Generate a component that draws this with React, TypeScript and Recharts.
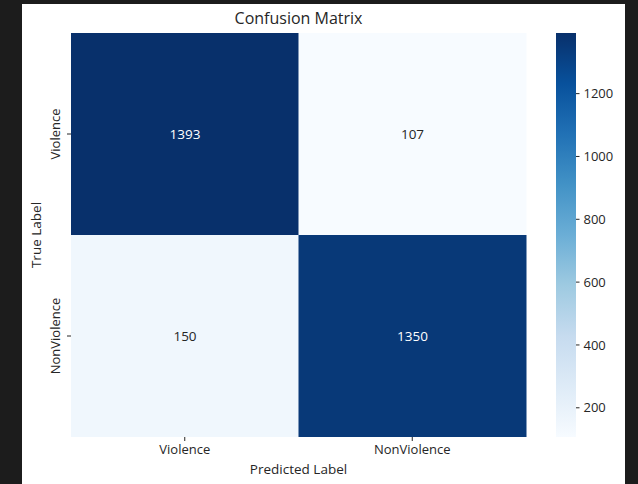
import { BarChart, Bar, Cell, XAxis, YAxis, LabelList } from 'recharts'

const labels = ['Violence', 'NonViolence']
// rows = true label, columns = predicted label
const violenceRow = [1393, 107]
const nonViolenceRow = [150, 1350]
const colorbarTicks = [200, 400, 600, 800, 1000, 1200]

// matplotlib "Blues"
const BLUES = ['#f7fbff', '#deebf7', '#c6dbef', '#9ecae1', '#6baed6', '#4292c6', '#2171b5', '#08519c', '#08306b']

const allValues = [...violenceRow, ...nonViolenceRow]
const vmin = Math.min(...allValues)
const vmax = Math.max(...allValues)

function hexToRgb(h: string) {
  const n = parseInt(h.slice(1), 16)
  return [(n >> 16) & 255, (n >> 8) & 255, n & 255]
}

function blues(v: number) {
  const t = Math.max(0, Math.min(1, (v - vmin) / (vmax - vmin)))
  const pos = t * (BLUES.length - 1)
  const i = Math.min(Math.floor(pos), BLUES.length - 2)
  const f = pos - i
  const a = hexToRgb(BLUES[i])
  const b = hexToRgb(BLUES[i + 1])
  const c = a.map((x, k) => Math.round(x + (b[k] - x) * f))
  return `rgb(${c[0]},${c[1]},${c[2]})`
}

const data = labels.map((pred, i) => ({
  pred,
  Violence: violenceRow[i],
  NonViolence: nonViolenceRow[i],
}))

const colorbarData = [{ name: 'cb', range: [vmin, vmax] }]

const FONT = '"Open Sans", sans-serif'
const TEXT = '#262626'

const cellLabel = (props: any) => {
  const { x, y, width, height, value } = props
  const fill = value > (vmin + vmax) / 2 ? '#ffffff' : TEXT
  return (
    <text
      x={x + width / 2}
      y={y + height / 2}
      textAnchor="middle"
      dominantBaseline="central"
      fontSize={13.5}
      fontFamily={FONT}
      fill={fill}
    >
      {value}
    </text>
  )
}

const YTick = (props: any) => {
  const { x, y, payload } = props
  const name = payload.value > 1 ? 'Violence' : 'NonViolence'
  return (
    <text
      transform={`translate(${x - 10},${y}) rotate(-90)`}
      textAnchor="middle"
      dominantBaseline="central"
      fontSize={13}
      fontFamily={FONT}
      fill={TEXT}
    >
      {name}
    </text>
  )
}

export default function App() {
  return (
    <div style={{ position: 'absolute', left: 0, top: 0, width: 638, height: 484, background: '#1c1c1c' }}>
      <div style={{ position: 'absolute', left: 22, top: 4, width: 603, height: 480, background: '#ffffff' }} />
      <div
        style={{
          position: 'absolute',
          left: 0,
          width: 597,
          top: 7,
          textAlign: 'center',
          fontFamily: FONT,
          fontSize: 16,
          lineHeight: '22px',
          color: TEXT,
        }}
      >
        Confusion Matrix
      </div>
      <div style={{ position: 'absolute', left: 0, top: 0 }}>
        <BarChart
          width={638}
          height={484}
          data={data}
          margin={{ top: 33, right: 112, bottom: 17, left: 31 }}
          barCategoryGap={0}
        >
          <XAxis
            dataKey="pred"
            axisLine={false}
            tickSize={4}
            tickMargin={4}
            height={30}
            tick={{ fontSize: 13, fontFamily: FONT, fill: TEXT }}
            tickLine={{ stroke: TEXT }}
            label={{
              content: ({ viewBox }: any) => (
                <text
                  x={viewBox.x + viewBox.width / 2}
                  y={469}
                  textAnchor="middle"
                  dominantBaseline="central"
                  fontSize={13.5}
                  fontFamily={FONT}
                  fill={TEXT}
                >
                  Predicted Label
                </text>
              ),
            }}
          />
          <YAxis
            type="number"
            domain={[0, 2]}
            ticks={[0.5, 1.5]}
            width={40}
            axisLine={false}
            tickSize={4}
            tickMargin={2}
            tickLine={{ stroke: TEXT }}
            tick={<YTick />}
            label={{
              content: ({ viewBox }: any) => (
                <text
                  transform={`translate(${viewBox.x + 5},${viewBox.y + viewBox.height / 2}) rotate(-90)`}
                  textAnchor="middle"
                  dominantBaseline="central"
                  fontSize={13.5}
                  fontFamily={FONT}
                  fill={TEXT}
                >
                  True Label
                </text>
              ),
            }}
          />
          <Bar dataKey={() => 1} stackId="m" isAnimationActive={false}>
            {data.map((d) => (
              <Cell key={d.pred} fill={blues(d.NonViolence)} />
            ))}
            <LabelList dataKey="NonViolence" content={cellLabel} />
          </Bar>
          <Bar dataKey={() => 1} stackId="m" isAnimationActive={false}>
            {data.map((d) => (
              <Cell key={d.pred} fill={blues(d.Violence)} />
            ))}
            <LabelList dataKey="Violence" content={cellLabel} />
          </Bar>
        </BarChart>
      </div>
      <div style={{ position: 'absolute', left: 0, top: 0 }}>
        <BarChart
          width={638}
          height={484}
          data={colorbarData}
          margin={{ top: 33, right: 12, bottom: 47, left: 556 }}
          barCategoryGap={0}
        >
          <defs>
            <linearGradient id="cbGrad" x1="0" y1="1" x2="0" y2="0">
              {BLUES.map((c, i) => (
                <stop key={c} offset={i / (BLUES.length - 1)} stopColor={c} />
              ))}
            </linearGradient>
          </defs>
          <XAxis dataKey="name" hide />
          <YAxis
            type="number"
            orientation="right"
            domain={[vmin, vmax]}
            allowDataOverflow
            ticks={colorbarTicks}
            width={50}
            axisLine={false}
            tickSize={3.5}
            tickMargin={4}
            tickLine={{ stroke: TEXT }}
            tick={{ fontSize: 13, fontFamily: FONT, fill: TEXT, textAnchor: 'start' }}
          />
          <Bar dataKey="range" fill="url(#cbGrad)" isAnimationActive={false} />
        </BarChart>
      </div>
    </div>
  )
}
